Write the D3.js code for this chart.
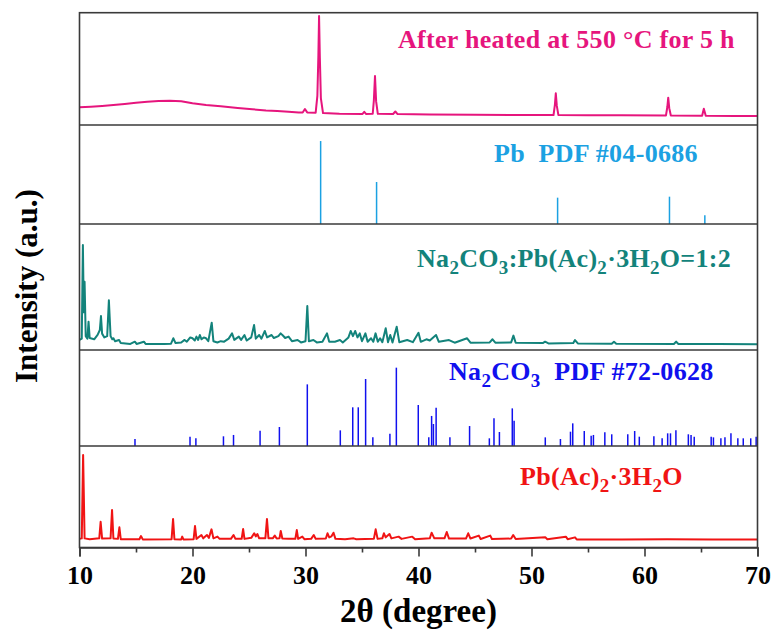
<!DOCTYPE html>
<html>
<head>
<meta charset="utf-8">
<script src="https://cdn.jsdelivr.net/npm/d3@7"></script>
<style>
  html, body { margin: 0; padding: 0; background: #fff; }
  svg { display: block; }
  text { font-family: "Liberation Serif", "Times New Roman", serif; font-weight: bold; white-space: pre; }
</style>
</head>
<body>
<svg id="chart" width="777" height="639"></svg>
<script>
// ---- data: 2θ (degree) vs intensity (a.u.), one array per pattern ----

// sample after heating at 550 °C for 5 h
const heated = [
  [10.0,158],[11,163],[12,170],[13,179],[14,188],[15,198],[16,207],[17,213],[18,216],[19,211],
  [20,193],[21.2,178],[22.5,168],[24,152],[25.3,140],[26.5,130],[27.5,124],[28.5,118],[29.4,112],
  [29.75,111],[29.95,142],[30.15,112],[30.9,110],[31.05,260],[31.14,620],[31.2,971],[31.27,600],
  [31.36,240],[31.55,106],[33,101],[35.05,99],[35.2,118],[35.35,99],[35.95,100],[36.05,220],
  [36.15,436],[36.25,210],[36.4,100],[37.75,98],[37.95,120],[38.15,97],[41,94],[45,91],[48.8,89],
  [51.95,89],[52.07,180],[52.15,282],[52.24,170],[52.38,88],[55,87],[58,86],[61.9,85],[62.02,160],
  [62.1,243],[62.19,150],[62.33,84],[65.1,83],[65.25,145],[65.42,83],[68,81],[70,80]
];

// Pb reference lines, PDF #04-0686
const pbRef = [[31.34,838],[36.29,424],[52.31,266],[62.21,276],[65.34,88]];

// Na2CO3 : Pb(Ac)2·3H2O = 1:2 mixture
const mixture = [
  [10.0,80],[10.2,90],[10.3,833],[10.38,300],[10.45,542],[10.55,110],[10.7,90],[10.8,225],[10.9,95],
  [11.3,85],[11.6,120],[11.8,159],[11.9,270],[12.0,130],[12.2,100],[12.45,110],[12.6,394],[12.75,110],
  [12.9,85],[13.0,93],[13.15,70],[13.5,79],[13.65,55],[14.5,48],[14.9,66],[15.05,48],[15.7,66],
  [15.85,48],[17.5,48],[18.1,50],[18.3,93],[18.5,55],[19.0,60],[19.3,80],[19.5,66],[19.8,100],
  [20.0,93],[20.2,75],[20.35,106],[20.5,80],[20.65,119],[20.8,85],[21.0,100],[21.2,93],[21.4,70],
  [21.7,217],[21.85,70],[22.2,60],[22.5,70],[22.8,66],[23.2,90],[23.5,132],[23.7,80],[24.1,106],
  [24.3,80],[24.6,119],[24.8,75],[25.2,100],[25.45,198],[25.6,90],[25.9,119],[26.1,90],[26.4,151],
  [26.6,100],[27.0,119],[27.2,95],[27.6,110],[27.8,132],[28.0,115],[28.2,95],[28.5,106],[28.8,70],
  [29.3,79],[29.6,60],[30.0,70],[30.16,349],[30.3,70],[30.7,79],[31.0,60],[31.5,66],[31.9,132],
  [32.1,65],[32.6,66],[33.05,79],[33.3,60],[33.8,100],[34.0,151],[34.2,110],[34.4,151],[34.6,100],
  [34.8,132],[35.0,70],[35.3,132],[35.5,65],[35.8,93],[36.0,65],[36.2,132],[36.4,65],[36.6,93],
  [36.8,62],[37.1,172],[37.3,62],[37.5,119],[37.7,60],[38.07,185],[38.3,62],[39.0,79],[39.5,62],
  [40.0,137],[40.2,65],[40.7,85],[41.0,75],[41.3,100],[41.55,119],[41.8,65],[42.7,79],[43.2,58],
  [44.3,93],[44.6,58],[46.3,60],[46.55,85],[46.8,58],[48.2,60],[48.4,114],[48.6,58],[51.0,55],
  [51.2,66],[51.5,52],[53.7,55],[53.85,79],[54.1,52],[57.1,50],[57.3,66],[57.5,50],[62.6,48],
  [62.8,66],[63.0,48],[66.6,47],[70,45]
];

// Na2CO3 reference lines, PDF #72-0628
const na2co3Ref = [
  [14.91,73],[19.78,97],[20.3,80],[22.74,101],[23.63,115],[25.98,160],[27.69,198],[30.16,642],
  [33.08,163],[34.18,403],[34.67,403],[35.32,698],[35.96,90],[37.47,128],[38.04,816],[39.98,427],
  [40.91,90],[41.16,313],[41.32,229],[41.56,399],[42.78,90],[44.52,208],[46.27,80],[46.68,288],
  [47.16,146],[48.3,392],[48.46,264],[51.22,90],[52.56,73],[53.45,149],[53.65,236],[54.67,156],
  [55.28,108],[55.48,115],[56.49,142],[57.1,122],[58.52,122],[59.13,156],[59.54,97],[60.83,101],
  [61.56,80],[62.05,132],[62.3,132],[62.78,163],[63.88,122],[64.12,115],[64.4,97],[65.9,97],
  [66.1,90],[66.76,80],[67.12,90],[67.65,132],[68.26,80],[68.74,80],[69.4,80],[69.88,97]
];

// Pb(Ac)2·3H2O
const leadAcetate = [
  [10.0,85],[10.2,90],[10.32,911],[10.45,90],[10.9,82],[11.75,90],[11.87,254],[12.0,88],[12.75,90],
  [12.88,369],[13.0,88],[13.4,85],[13.53,199],[13.65,82],[15.3,82],[15.44,113],[15.6,80],[18.15,82],
  [18.28,281],[18.4,82],[19.0,80],[19.09,107],[19.2,80],[20.1,82],[20.22,212],[20.35,85],[20.79,123],
  [20.95,90],[21.28,123],[21.45,95],[21.68,179],[21.85,90],[22.21,107],[22.4,85],[23.4,85],[23.63,123],
  [23.8,85],[24.35,85],[24.48,182],[24.6,85],[25.2,95],[25.46,140],[25.6,110],[25.74,133],[25.9,90],
  [26.45,92],[26.59,281],[26.72,92],[27.1,90],[27.28,117],[27.45,88],[27.7,90],[27.81,163],[27.95,88],
  [28.5,85],[29.1,85],[29.23,172],[29.35,85],[29.72,107],[29.9,82],[30.5,85],[30.73,123],[30.9,85],
  [31.8,88],[31.95,140],[32.1,100],[32.3,110],[32.48,146],[32.65,85],[33.5,82],[34.26,90],[34.5,82],
  [36.05,85],[36.21,179],[36.38,85],[36.8,90],[36.94,140],[37.1,100],[37.43,133],[37.6,90],[38.24,107],
  [38.5,85],[39.45,107],[39.7,82],[41.0,90],[41.16,146],[41.4,90],[42.3,90],[42.5,153],[42.7,88],
  [44.2,88],[44.4,140],[44.6,88],[45.34,117],[45.5,84],[46.35,117],[46.5,84],[48.2,88],[48.38,123],
  [48.6,84],[51.22,100],[51.4,82],[53.04,107],[53.2,82],[53.85,100],[54.0,80],[58,80],[62,82],
  [66,80],[70,80]
];

// x-axis ticks
const majorTicks = [10, 20, 30, 40, 50, 60, 70];
const minorTicks = [15, 25, 35, 45, 55, 65];

// ---- layout ----
const svg = d3.select("#chart");
const left = 79.5, right = 757.5;
const bounds = [12.7, 125, 224, 350, 446, 547.5];   // panel edges, top to bottom
const axisColor = "#3a3a3a";

const x = d3.scaleLinear().domain([10, 70]).range([left, right]);

const panels = [
  { data: heated, kind: "line", color: "#E6157D",
    label: [{t: "After heated at 550 \u00B0C for 5 h"}], lx: 398, ly: 48 },
  { data: pbRef, kind: "stick", color: "#1BA1E2",
    label: [{t: "Pb  PDF #04-0686"}], lx: 494, ly: 161.5 },
  { data: mixture, kind: "line", color: "#13837B",
    label: [{t: "Na"}, {t: "2", sub: true}, {t: "CO"}, {t: "3", sub: true}, {t: ":Pb(Ac)"},
            {t: "2", sub: true}, {t: "\u00B73H"}, {t: "2", sub: true}, {t: "O=1:2"}], lx: 417, ly: 266.5 },
  { data: na2co3Ref, kind: "stick", color: "#1010EE",
    label: [{t: "Na"}, {t: "2", sub: true}, {t: "CO"}, {t: "3", sub: true}, {t: "  PDF #72-0628"}], lx: 449, ly: 380 },
  { data: leadAcetate, kind: "line", color: "#F01414",
    label: [{t: "Pb(Ac)"}, {t: "2", sub: true}, {t: "\u00B73H"}, {t: "2", sub: true}, {t: "O"}], lx: 520, ly: 485 }
];

panels.forEach((p, i) => {
  const y = d3.scaleLinear().domain([0, 1000]).range([bounds[i + 1], bounds[i]]);
  const g = svg.append("g");
  if (p.kind === "line") {
    const line = d3.line().x(d => x(d[0])).y(d => y(d[1]));
    g.append("path").datum(p.data)
      .attr("d", line)
      .attr("fill", "none")
      .attr("stroke", p.color)
      .attr("stroke-width", 2)
      .attr("stroke-linejoin", "round");
  } else {
    g.selectAll("line").data(p.data).join("line")
      .attr("x1", d => x(d[0])).attr("x2", d => x(d[0]))
      .attr("y1", y(0)).attr("y2", d => y(d[1]))
      .attr("stroke", p.color)
      .attr("stroke-width", 1.5);
  }
  const txt = svg.append("text")
    .attr("x", p.lx).attr("y", p.ly)
    .attr("fill", p.color)
    .attr("font-size", 26)
    .attr("letter-spacing", 0.3);
  let shifted = false;
  p.label.forEach(s => {
    const ts = txt.append("tspan").text(s.t);
    if (s.sub && !shifted) { ts.attr("dy", 7).attr("font-size", 19); shifted = true; }
    else if (s.sub) { ts.attr("font-size", 19); }
    else if (shifted) { ts.attr("dy", -7); shifted = false; }
  });
});

// frame and panel dividers
svg.append("rect")
  .attr("x", left).attr("y", bounds[0])
  .attr("width", right - left).attr("height", bounds[5] - bounds[0])
  .attr("fill", "none").attr("stroke", axisColor).attr("stroke-width", 1.6);
svg.selectAll("line.divider").data(bounds.slice(1, 5)).join("line")
  .attr("class", "divider")
  .attr("x1", left).attr("x2", right)
  .attr("y1", d => d).attr("y2", d => d)
  .attr("stroke", axisColor).attr("stroke-width", 1.6);

// bottom axis
const axis = d3.axisBottom(x).tickValues(majorTicks).tickFormat(d3.format("d"))
  .tickSize(9).tickPadding(9);
const ax = svg.append("g").attr("transform", `translate(0,${bounds[5]})`).call(axis);
ax.select(".domain").attr("stroke", axisColor).attr("stroke-width", 1.6);
ax.selectAll(".tick line").attr("stroke", axisColor).attr("stroke-width", 1.6);
ax.selectAll(".tick text").attr("fill", "#000").attr("font-size", 26)
  .attr("font-family", "Liberation Serif").attr("font-weight", "bold");
const axMinor = d3.axisBottom(x).tickValues(minorTicks).tickFormat("").tickSize(5);
const axm = svg.append("g").attr("transform", `translate(0,${bounds[5]})`).call(axMinor);
axm.select(".domain").remove();
axm.selectAll(".tick line").attr("stroke", axisColor).attr("stroke-width", 1.6);

// axis titles
svg.append("text")
  .attr("x", (left + right) / 2).attr("y", 622)
  .attr("text-anchor", "middle").attr("font-size", 33).attr("fill", "#000")
  .text("2\u03B8 (degree)");
svg.append("text")
  .attr("transform", `translate(37,${(bounds[0] + bounds[5]) / 2 + 6}) rotate(-90)`)
  .attr("text-anchor", "middle").attr("font-size", 31).attr("fill", "#000")
  .text("Intensity (a.u.)");
</script>
</body>
</html>
